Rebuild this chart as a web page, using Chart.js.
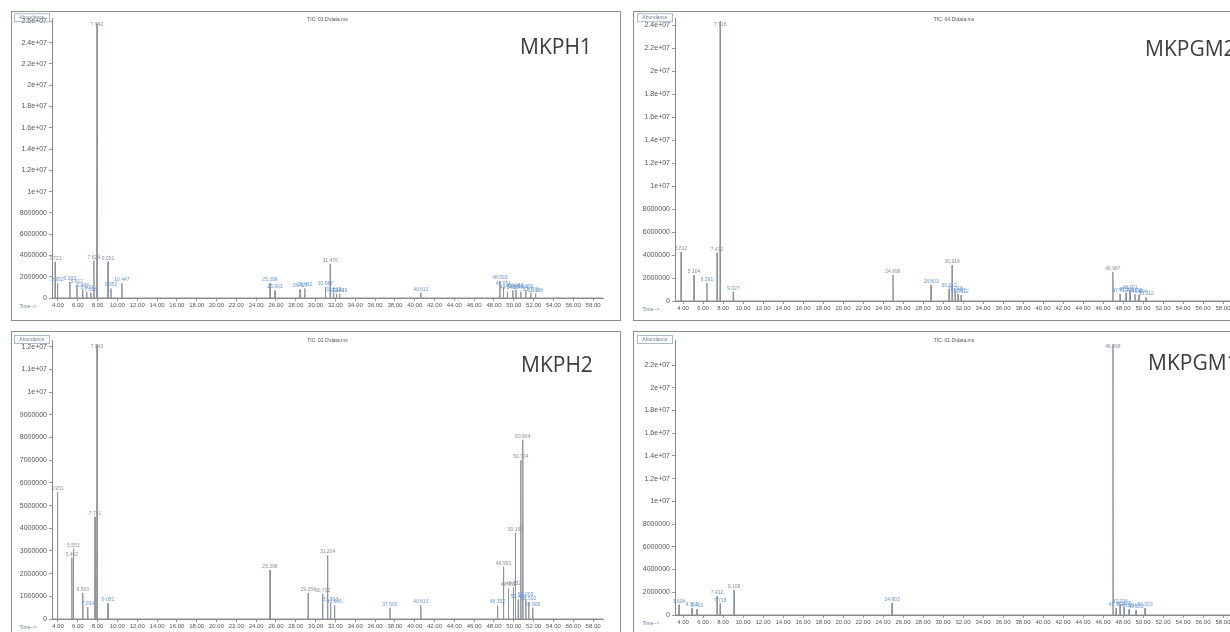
<!DOCTYPE html>
<html>
<head>
<meta charset="utf-8">
<script src="https://cdn.jsdelivr.net/npm/chart.js@4.4.0/dist/chart.umd.min.js"></script>
<style>
html, body { margin: 0; padding: 0; width: 1230px; height: 632px; overflow: hidden; background: #fff; }
.frame { position: absolute; border: 1px solid #8c8c8c; box-sizing: border-box; }
canvas { position: absolute; }
.name { position: absolute; font-family: "Open Sans", sans-serif; font-size: 21px; line-height: 1; color: #3c3c3c; white-space: nowrap; }
</style>
</head>
<body>
<div class="frame" style="left:11px;top:11px;width:610px;height:310px"></div>
<div class="frame" style="left:633px;top:11px;width:620px;height:310px"></div>
<div class="frame" style="left:11px;top:331px;width:610px;height:320px"></div>
<div class="frame" style="left:633px;top:331px;width:620px;height:320px"></div>

<canvas id="c1" width="596" height="302" style="left:12px;top:12px"></canvas>
<canvas id="c2" width="606" height="302" style="left:634px;top:12px"></canvas>
<canvas id="c3" width="596" height="300" style="left:12px;top:332px"></canvas>
<canvas id="c4" width="606" height="300" style="left:634px;top:332px"></canvas>

<div class="name" style="left:520px;top:36px">MKPH1</div>
<div class="name" style="left:1145px;top:38px">MKPGM2</div>
<div class="name" style="left:521px;top:354px">MKPH2</div>
<div class="name" style="left:1148px;top:352px">MKPGM1</div>

<script>
// retention time axis, minutes
const xTicks = [4, 6, 8, 10, 12, 14, 16, 18, 20, 22, 24, 26, 28, 30, 32, 34, 36, 38, 40, 42, 44, 46, 48, 50, 52, 54, 56, 58];

// MKPH1
const mkph1Times = [3.721, 3.952, 5.203, 5.912, 6.487, 6.903, 7.318, 7.624, 7.942, 9.051, 9.352, 10.447, 25.398, 25.903, 28.427, 28.912, 30.987, 31.476, 31.812, 32.104, 32.419, 40.612, 48.593, 48.951, 49.348, 49.902, 50.213, 50.704, 51.196, 51.703, 52.188];
const mkph1Heights = [3400000, 1400000, 1500000, 1200000, 800000, 600000, 500000, 3500000, 25800000, 3400000, 900000, 1400000, 1400000, 700000, 800000, 900000, 1000000, 3200000, 500000, 400000, 400000, 500000, 1600000, 1000000, 600000, 700000, 800000, 600000, 700000, 500000, 400000];
const mkph1YTicks = [0, 2000000, 4000000, 6000000, 8000000, 10000000, 12000000, 14000000, 16000000, 18000000, 20000000, 22000000, 24000000, 26000000];

// MKPGM2
const mkpgm2Times = [3.812, 5.104, 6.391, 7.412, 7.718, 9.027, 24.998, 28.803, 30.612, 30.914, 31.218, 31.507, 31.812, 46.987, 47.712, 48.306, 48.701, 49.198, 49.604, 50.312];
const mkpgm2Heights = [4260000, 2260000, 1570000, 4200000, 24300000, 800000, 2260000, 1400000, 1000000, 3100000, 800000, 600000, 500000, 2500000, 600000, 700000, 900000, 600000, 500000, 300000];
const mkpgm2YTicks = [0, 2000000, 4000000, 6000000, 8000000, 10000000, 12000000, 14000000, 16000000, 18000000, 20000000, 22000000, 24000000];

// MKPH2
const mkph2Times = [3.951, 5.402, 5.553, 6.503, 7.004, 7.741, 7.943, 9.051, 25.398, 29.254, 30.702, 31.204, 31.503, 31.906, 37.502, 40.613, 48.352, 48.953, 49.451, 49.952, 50.153, 50.452, 50.704, 50.904, 51.203, 51.502, 51.906];
const mkph2Heights = [5600000, 2700000, 3100000, 1150000, 530000, 4500000, 12100000, 700000, 2160000, 1150000, 1100000, 2800000, 700000, 600000, 500000, 600000, 600000, 2300000, 1350000, 1400000, 3800000, 850000, 7000000, 7900000, 900000, 750000, 500000];
const mkph2YTicks = [0, 1000000, 2000000, 3000000, 4000000, 5000000, 6000000, 7000000, 8000000, 9000000, 10000000, 11000000, 12000000];

// MKPGM1
const mkpgm1Times = [3.604, 4.903, 5.402, 7.412, 7.718, 9.108, 24.903, 46.998, 47.312, 47.706, 48.105, 48.604, 49.302, 50.203];
const mkpgm1Heights = [900000, 600000, 500000, 1670000, 1000000, 2200000, 1060000, 23800000, 600000, 900000, 700000, 500000, 400000, 600000];
const mkpgm1YTicks = [0, 2000000, 4000000, 6000000, 8000000, 10000000, 12000000, 14000000, 16000000, 18000000, 20000000, 22000000];

const panels = [
  { id: 'c1', file: 'TIC: 03.D\\data.ms', times: mkph1Times, heights: mkph1Heights, yTicks: mkph1YTicks, yMax: 26300000, xMin: 3.4, xMax: 59.0, pad: { left: 6, right: 5, top: 5, bottom: 0 }, yw: 34, xh: 16 },
  { id: 'c2', file: 'TIC: 04.D\\data.ms', times: mkpgm2Times, heights: mkpgm2Heights, yTicks: mkpgm2YTicks, yMax: 24600000, xMin: 3.2, xMax: 59.0, pad: { left: 7, right: 7, top: 6, bottom: 0 }, yw: 34, xh: 13 },
  { id: 'c3', file: 'TIC: 02.D\\data.ms', times: mkph2Times, heights: mkph2Heights, yTicks: mkph2YTicks, yMax: 12300000, xMin: 3.4, xMax: 59.0, pad: { left: 6, right: 5, top: 8, bottom: 0 }, yw: 34, xh: 13 },
  { id: 'c4', file: 'TIC: 01.D\\data.ms', times: mkpgm1Times, heights: mkpgm1Heights, yTicks: mkpgm1YTicks, yMax: 24200000, xMin: 3.2, xMax: 59.0, pad: { left: 7, right: 7, top: 8, bottom: 0 }, yw: 34, xh: 17 }
];

function spikes(p) {
  const pts = [{ x: p.xMin, y: 0 }];
  p.times.map((t, i) => [t, p.heights[i]])
    .sort((a, b) => a[0] - b[0])
    .forEach(([t, h]) => {
      pts.push({ x: t - 0.03, y: 0 }, { x: t, y: h }, { x: t + 0.03, y: 0 });
    });
  pts.push({ x: p.xMax, y: 0 });
  return pts;
}

function abundLabel(v) {
  if (v >= 10000000) return parseFloat((v / 10000000).toFixed(2)) + 'e+07';
  return String(v);
}

function makeAnnot(p) {
  return {
    id: 'annot',
    afterDatasetsDraw(chart) {
      const { ctx, chartArea: a, scales: { x, y } } = chart;
      ctx.save();
      // peak retention time labels
      ctx.font = '5px "Liberation Sans"';
      ctx.textAlign = 'center';
      ctx.textBaseline = 'bottom';
      p.times.forEach((t, i) => {
        const h = p.heights[i];
        const px = x.getPixelForValue(t);
        let py = y.getPixelForValue(h) - 1;
        if (py < a.top + 6) py = a.top + 9;
        ctx.fillStyle = h > p.yMax * 0.08 ? '#8a8f98' : '#6a95d2';
        ctx.fillText(t.toFixed(3), px, py);
      });
      // data file title
      ctx.fillStyle = '#555';
      ctx.textBaseline = 'middle';
      ctx.fillText(p.file, (a.left + a.right) / 2, a.top + 1);
      // Abundance box
      ctx.strokeStyle = '#a9b8cc';
      ctx.lineWidth = 1;
      ctx.strokeRect(a.left - 37.5, a.top - 4.5, 35, 8);
      ctx.fillStyle = '#6b7f99';
      ctx.fillText('Abundance', a.left - 20, a.top - 0.5);
      // time label
      ctx.fillStyle = '#6b7f99';
      ctx.fillText('Time-->', a.left - 24, a.bottom + 9);
      ctx.restore();
    }
  };
}

panels.forEach(p => {
  const ctx = document.getElementById(p.id).getContext('2d');
  new Chart(ctx, {
    type: 'line',
    data: {
      datasets: [{
        data: spikes(p),
        borderColor: '#8d939c',
        borderWidth: 1,
        pointRadius: 0,
        tension: 0,
        fill: false
      }]
    },
    options: {
      animation: false,
      responsive: false,
      maintainAspectRatio: false,
      layout: { padding: p.pad },
      plugins: { legend: { display: false }, tooltip: { enabled: false } },
      scales: {
        x: {
          type: 'linear',
          min: p.xMin,
          max: p.xMax,
          afterBuildTicks: s => { s.ticks = xTicks.map(v => ({ value: v })); },
          afterFit: s => { s.height = p.xh; },
          grid: { display: true, drawOnChartArea: false, tickLength: 3, color: '#999' },
          border: { color: '#888' },
          ticks: { autoSkip: false, maxRotation: 0, padding: 1, color: '#555', font: { size: 6, family: 'Liberation Sans' }, callback: v => v.toFixed(2) }
        },
        y: {
          min: 0,
          max: p.yMax,
          afterBuildTicks: s => { s.ticks = p.yTicks.map(v => ({ value: v })); },
          afterFit: s => { s.width = p.yw; },
          grid: { display: true, drawOnChartArea: false, tickLength: 3, color: '#999' },
          border: { color: '#888' },
          ticks: { padding: 2, color: '#555', font: { size: 7, family: 'Liberation Sans' }, callback: v => abundLabel(v) }
        }
      }
    },
    plugins: [makeAnnot(p)]
  });
});
</script>
</body>
</html>
